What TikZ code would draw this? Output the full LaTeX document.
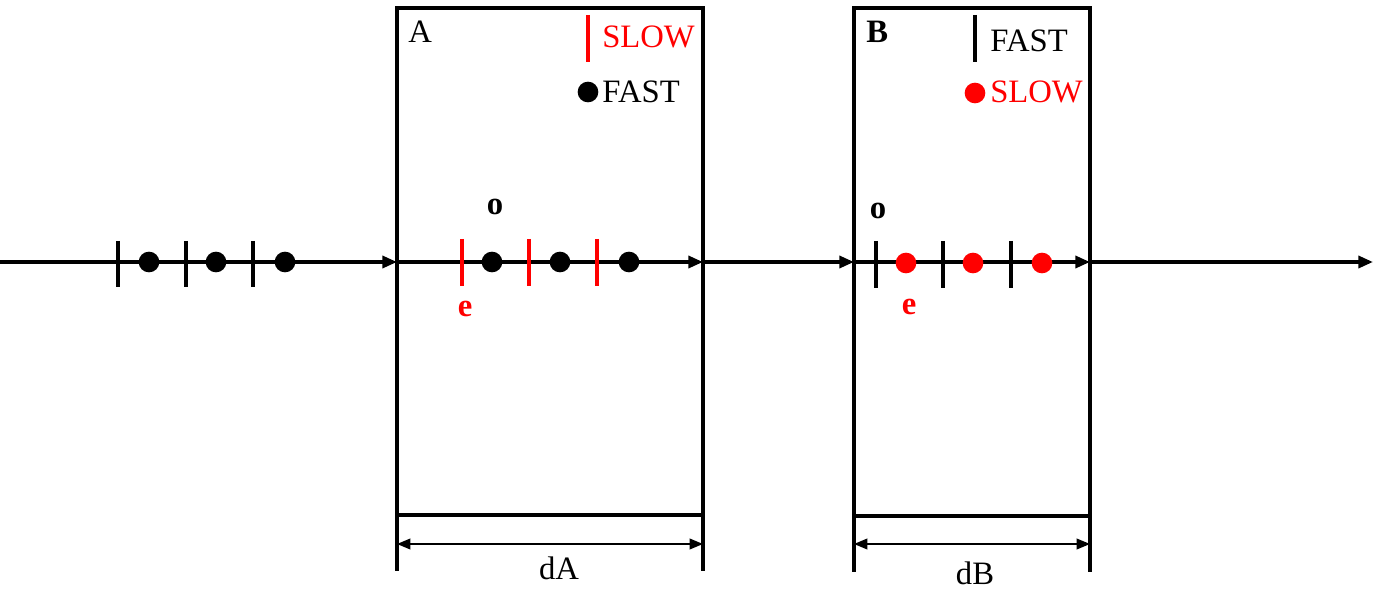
\documentclass[tikz,border=0pt]{standalone}
\usepackage{fontspec}
\setmainfont{Liberation Serif}
\usetikzlibrary{arrows.meta}
\begin{document}
\begin{tikzpicture}[x=0.75pt,y=-0.75pt,
  heavy/.style={line width=2.8pt},
  axisseg/.style={line width=2.6pt,-{Triangle[length=11pt,width=9pt]}},
  dimline/.style={line width=1.2pt,{Triangle[length=10pt,width=8pt]}-{Triangle[length=10pt,width=8pt]}},
  tickmark/.style={line width=2.6pt},
  blackdot/.style={circle,fill=black,minimum size=15.5pt,inner sep=0pt},
  reddot/.style={circle,fill=red,minimum size=15.5pt,inner sep=0pt},
  lbl/.style={inner sep=0pt,font=\fontsize{24.5}{28}\selectfont},
  blbl/.style={inner sep=0pt,font=\fontsize{24.5}{28}\selectfont\bfseries}]
\useasboundingbox (0,0) rectangle (1386,616);

% axis coordinates
\coordinate (L0) at (0,262);
\coordinate (A0) at (397,262);
\coordinate (A1) at (703,262);
\coordinate (B0) at (854,262);
\coordinate (B1) at (1090,262);
\coordinate (R)  at (1373,262);

% boxes
\coordinate (Atl) at (397,8);
\coordinate (Abr) at (703,515);
\coordinate (Btl) at (854,8);
\coordinate (Bbr) at (1090,516);
\draw[heavy] (Atl) rectangle (Abr);
\draw[heavy] (Btl) rectangle (Bbr);
\draw[heavy] (397,515) -- (397,571);
\draw[heavy] (703,515) -- (703,571);
\draw[heavy] (854,516) -- (854,572);
\draw[heavy] (1090,516) -- (1090,572);

% axis segments
\draw[axisseg] (L0) -- (A0);
\draw[axisseg] (A0) -- (A1);
\draw[axisseg] (A1) -- (B0);
\draw[axisseg] (B0) -- (B1);
\draw[axisseg] (B1) -- (R);

% left ticks and dots
\foreach \x in {118,186,253} \draw[tickmark] (\x,241) -- (\x,287);
\foreach \x/\n in {149/l1,216/l2,285/l3} \node[blackdot] (\n) at (\x,262) {};

% box A content
\foreach \x in {462,529,597} \draw[tickmark,red] (\x,239) -- (\x,286);
\foreach \x/\n in {492/a1,560/a2,629/a3} \node[blackdot] (\n) at (\x,262) {};
\node[blbl,anchor=base] (oA) at (495,215) {o};
\node[blbl,anchor=base,text=red] (eA) at (465,317) {e};
\node[lbl,anchor=base west] (labA) at (408,43) {A};
\draw[tickmark,red] (588,15) -- (588,62);
\node[lbl,anchor=base west,text=red] (slowA) at (602,48) {SLOW};
\node[blackdot] (fdotA) at (588,92) {};
\node[lbl,anchor=base west] (fastA) at (602,103) {FAST};

% box B content
\foreach \x in {876,943,1011} \draw[tickmark] (\x,241) -- (\x,288);
\foreach \x/\n in {906/b1,973/b2,1042/b3} \node[reddot] (\n) at (\x,263) {};
\node[blbl,anchor=base] (oB) at (878,219) {o};
\node[blbl,anchor=base,text=red] (eB) at (909,315) {e};
\node[blbl,anchor=base west] (labB) at (866,43) {B};
\draw[tickmark] (975,15) -- (975,62);
\node[lbl,anchor=base west] (fastB) at (990,52) {FAST};
\node[reddot] (sdotB) at (975,93) {};
\node[lbl,anchor=base west,text=red] (slowB) at (990,103) {SLOW};

% dimensions
\coordinate (dA0) at (397,544);
\coordinate (dA1) at (703,544);
\coordinate (dB0) at (854,544);
\coordinate (dB1) at (1090,544);
\draw[dimline] (dA0) -- (dA1);
\draw[dimline] (dB0) -- (dB1);
\node[lbl,anchor=base] (dAlab) at (559,580) {dA};
\node[lbl,anchor=base] (dBlab) at (975,585) {dB};
\end{tikzpicture}
\end{document}
